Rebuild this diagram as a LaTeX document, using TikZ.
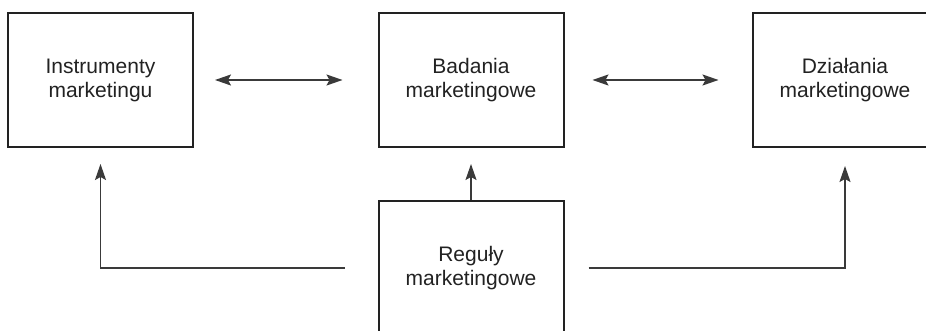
\documentclass[tikz,border=0pt]{standalone}
\usepackage{fontspec}
\setmainfont{Liberation Sans}
\usetikzlibrary{arrows.meta}
\definecolor{ink}{HTML}{222222}
\definecolor{wire}{HTML}{3A3A3A}
\begin{document}
\begin{tikzpicture}[x=1pt,y=-1pt,
  box/.style={draw=ink, line width=2pt, minimum width=185pt, minimum height=134pt,
    align=center, text=ink, font=\fontsize{21}{24}\selectfont, inner sep=0pt},
  tip/.style={arrows={-Stealth[length=16pt,width=11pt,inset=3pt]}},
  link/.style={draw=wire, line width=1.5pt, tip},
  dlink/.style={link, arrows={Stealth[length=16pt,width=11pt,inset=3pt]-Stealth[length=16pt,width=11pt,inset=3pt]}}]
  \useasboundingbox (0,0) rectangle (926,331);
  \clip (0,0) rectangle (926,331);
  \fill[white] (0,0) rectangle (926,331);

  % the four boxes
  \node[box] (b1) at (100.5,80) {Instrumenty\\marketingu};
  \node[box] (b2) at (471,80) {Badania\\marketingowe};
  \node[box] (b3) at (845,80) {Działania\\marketingowe};
  \node[box] (b4) at (471,268) {Reguły\\marketingowe};

  % two-way links along the top row
  \draw[dlink, shorten <=21pt, shorten >=35pt] (b1.east) -- (b2.west);
  \draw[dlink, shorten <=28pt, shorten >=33pt] (b2.east) -- (b3.west);

  % links from the rules box
  \draw[link, shorten >=16pt] (b4.north) -- (b2.south);
  \draw[link, shorten <=33pt, shorten >=16pt] (b4.west) -| (b1.south);
  \draw[link, shorten <=24pt, shorten >=18pt] (b4.east) -| (b3.south);
\end{tikzpicture}
\end{document}
